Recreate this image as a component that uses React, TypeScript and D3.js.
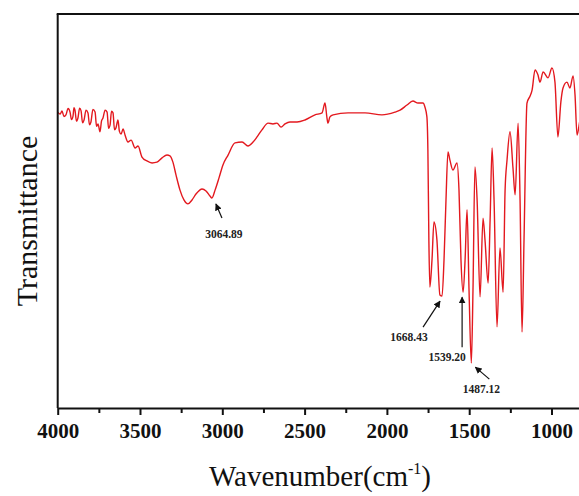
import * as d3 from "d3";
import { useEffect, useRef } from "react";

// FTIR spectrum (wavenumber in cm-1, transmittance in a.u. 0..100)
const wavenumbers = [
  4000, 3985, 3974, 3962, 3950, 3937, 3925, 3916, 3907, 3901, 3895, 3886, 3877, 3867, 3858, 3849,
  3840, 3828, 3816, 3807, 3798, 3786, 3773, 3764, 3755, 3743, 3734, 3725, 3712, 3700, 3691, 3682,
  3673, 3664, 3655, 3646, 3634, 3625, 3615, 3603, 3591, 3573, 3554, 3530, 3512, 3488, 3458, 3427,
  3397, 3366, 3336, 3318, 3300, 3281, 3257, 3233, 3209, 3184, 3160, 3123, 3099, 3075, 3063, 3044,
  3020, 2996, 2965, 2923, 2880, 2844, 2813, 2789, 2759, 2722, 2692, 2668, 2643, 2619, 2589, 2546,
  2498, 2437, 2394, 2376, 2364, 2358, 2346, 2327, 2236, 2133, 2030, 1951, 1920, 1878, 1842, 1811,
  1781, 1769, 1757, 1751, 1745, 1739, 1726, 1714, 1696, 1678, 1665, 1653, 1641, 1629, 1617, 1599,
  1574, 1562, 1550, 1537, 1525, 1513, 1501, 1487, 1477, 1465, 1452, 1434, 1416, 1404, 1385, 1373,
  1361, 1349, 1331, 1313, 1294, 1282, 1270, 1252, 1234, 1221, 1203, 1191, 1179, 1167, 1149, 1130,
  1118, 1100, 1082, 1070, 1051, 1021, 997, 979, 961, 943, 930, 906, 888, 869, 857, 845, 827, 797,
];
const transmittance = [
  75.1, 74.6, 75.4, 74.0, 74.4, 76.0, 75.1, 73.2, 74.1, 76.2, 75.6, 72.8, 73.6, 76.1, 75.4, 72.4,
  73.1, 75.6, 74.9, 71.9, 72.6, 75.8, 75.1, 71.5, 72.1, 70.1, 72.8, 73.6, 75.6, 75.1, 71.0, 71.8,
  75.3, 74.9, 70.6, 71.1, 73.1, 70.2, 69.5, 70.8, 69.3, 67.5, 68.0, 66.0, 66.5, 63.7, 62.7, 62.2,
  62.4, 63.5, 64.2, 64.0, 62.4, 59.1, 55.3, 52.8, 51.8, 52.8, 54.3, 55.6, 55.1, 53.8, 53.3, 55.3,
  58.4, 61.7, 64.2, 67.3, 67.5, 66.5, 67.5, 68.8, 70.6, 72.3, 72.1, 72.3, 71.3, 72.1, 72.6, 72.6,
  73.1, 74.4, 74.9, 77.4, 73.6, 72.3, 73.9, 74.4, 74.9, 74.9, 74.4, 75.1, 75.6, 76.9, 77.9, 77.4,
  77.4, 76.4, 73.9, 65.5, 42.6, 30.7, 37.6, 47.2, 42.6, 28.7, 28.4, 37.6, 52.8, 65.0, 62.9, 60.4,
  62.2, 55.3, 37.6, 29.4, 37.6, 50.3, 29.9, 11.4, 29.9, 61.2, 52.8, 28.2, 48.2, 42.6, 31.7, 47.7,
  66.0, 52.8, 20.6, 40.6, 29.4, 55.3, 63.0, 70.1, 60.9, 54.1, 72.3, 52.8, 19.3, 42.6, 77.4, 79.2,
  80.7, 85.8, 84.5, 82.7, 85.3, 83.8, 86.3, 82.7, 68.8, 77.7, 81.2, 82.7, 81.2, 84.3, 79.4, 69.3, 73.1, 78.2,
];

const majorTicks = [4000, 3500, 3000, 2500, 2000, 1500, 1000];
const minorTicks = [3750, 3250, 2750, 2250, 1750, 1250];

const peakLabels = ["3064.89", "1668.43", "1539.20", "1487.12"];
const peakWavenumbers = [3063, 1665, 1537, 1487];
const peakValues = [53.3, 28.4, 29.4, 11.4];

const W = 579;
const H = 496;
const margin = { left: 57.7, top: 14, bottom: 408 };
const serif = "'Liberation Serif', 'Times New Roman', serif";
const red = "#e3191f";

// arrow tail / head / label offsets from the peak point, in px
const arrowGeom = [
  { tail: [10, 20], head: [4, 6], label: [12, 40] },
  { tail: [-19, 31], head: [-2, 5], label: [-33, 45] },
  { tail: [-1, 55], head: [-1, 5], label: [-16, 69] },
  { tail: [18, 16], head: [4, 4], label: [10, 30] },
];

const App = () => {
  const svgRef = useRef<SVGSVGElement>(null);

  useEffect(() => {
    document.body.style.margin = "0";
    const svg = d3.select(svgRef.current);
    svg.selectAll("*").remove();

    const x = d3
      .scaleLinear()
      .domain([4000, 400])
      .range([margin.left, margin.left + 3600 * 0.1646]);
    const y = d3.scaleLinear().domain([0, 100]).range([margin.bottom, margin.top]);

    const defs = svg.append("defs");
    defs
      .append("marker")
      .attr("id", "arrow")
      .attr("viewBox", "0 0 10 10")
      .attr("refX", 9)
      .attr("refY", 5)
      .attr("markerWidth", 7)
      .attr("markerHeight", 7)
      .attr("markerUnits", "userSpaceOnUse")
      .attr("orient", "auto")
      .append("path")
      .attr("d", "M0,0 L10,5 L0,10 z")
      .attr("fill", "#111");

    // spectrum
    const pts = wavenumbers.map((w, i) => [w, transmittance[i]] as [number, number]);
    const line = d3
      .line<[number, number]>()
      .x((d) => x(d[0]))
      .y((d) => y(d[1]))
      .curve(d3.curveMonotoneX);
    svg
      .append("path")
      .datum(pts)
      .attr("d", line)
      .attr("fill", "none")
      .attr("stroke", red)
      .attr("stroke-width", 1.4)
      .attr("stroke-linejoin", "round");

    // frame: left + top
    svg
      .append("line")
      .attr("x1", margin.left)
      .attr("x2", margin.left)
      .attr("y1", margin.top)
      .attr("y2", margin.bottom)
      .attr("stroke", "#111")
      .attr("stroke-width", 2);
    svg
      .append("line")
      .attr("x1", margin.left - 1)
      .attr("x2", W)
      .attr("y1", margin.top)
      .attr("y2", margin.top)
      .attr("stroke", "#111")
      .attr("stroke-width", 2);

    // bottom axis
    const gx = svg.append("g").attr("transform", `translate(0,${margin.bottom})`);
    gx.call(
      d3.axisBottom(x).tickValues(majorTicks).tickSize(7).tickSizeOuter(0).tickFormat(d3.format("d"))
    );
    gx.select(".domain").attr("stroke", "#111").attr("stroke-width", 2);
    gx.selectAll(".tick line").attr("stroke", "#111").attr("stroke-width", 2);
    gx.selectAll(".tick text")
      .attr("font-family", serif)
      .attr("font-weight", "bold")
      .attr("font-size", 21)
      .attr("fill", "#111")
      .attr("dy", 0)
      .attr("y", 30);

    const gm = svg.append("g").attr("transform", `translate(0,${margin.bottom})`);
    gm.call(d3.axisBottom(x).tickValues(minorTicks).tickSize(5).tickSizeOuter(0).tickFormat(() => ""));
    gm.select(".domain").remove();
    gm.selectAll(".tick line").attr("stroke", "#111").attr("stroke-width", 2);

    // axis titles
    const xt = svg
      .append("text")
      .attr("x", 320)
      .attr("y", 486)
      .attr("text-anchor", "middle")
      .attr("font-family", serif)
      .attr("font-size", 29)
      .attr("fill", "#111");
    xt.append("tspan").text("Wavenumber(cm");
    xt.append("tspan").attr("dy", -12).attr("font-size", 16).text("-1");
    xt.append("tspan").attr("dy", 12).text(")");

    svg
      .append("text")
      .attr("transform", `translate(37,${(margin.top + margin.bottom) / 2 + 10}) rotate(-90)`)
      .attr("text-anchor", "middle")
      .attr("font-family", serif)
      .attr("font-size", 30)
      .attr("fill", "#111")
      .text("Transmittance");

    // peak annotations
    peakLabels.forEach((lab, i) => {
      const px = x(peakWavenumbers[i]);
      const py = y(peakValues[i]);
      const g = arrowGeom[i];
      svg
        .append("line")
        .attr("x1", px + g.tail[0])
        .attr("y1", py + g.tail[1])
        .attr("x2", px + g.head[0])
        .attr("y2", py + g.head[1])
        .attr("stroke", "#111")
        .attr("stroke-width", 1.2)
        .attr("marker-end", "url(#arrow)");
      svg
        .append("text")
        .attr("x", px + g.label[0])
        .attr("y", py + g.label[1])
        .attr("text-anchor", "middle")
        .attr("font-family", serif)
        .attr("font-weight", "bold")
        .attr("font-size", 11.5)
        .attr("fill", "#222")
        .text(lab);
    });
  }, []);

  return <svg ref={svgRef} width={W} height={H} style={{ display: "block", background: "#fff" }} />;
};

export default App;
